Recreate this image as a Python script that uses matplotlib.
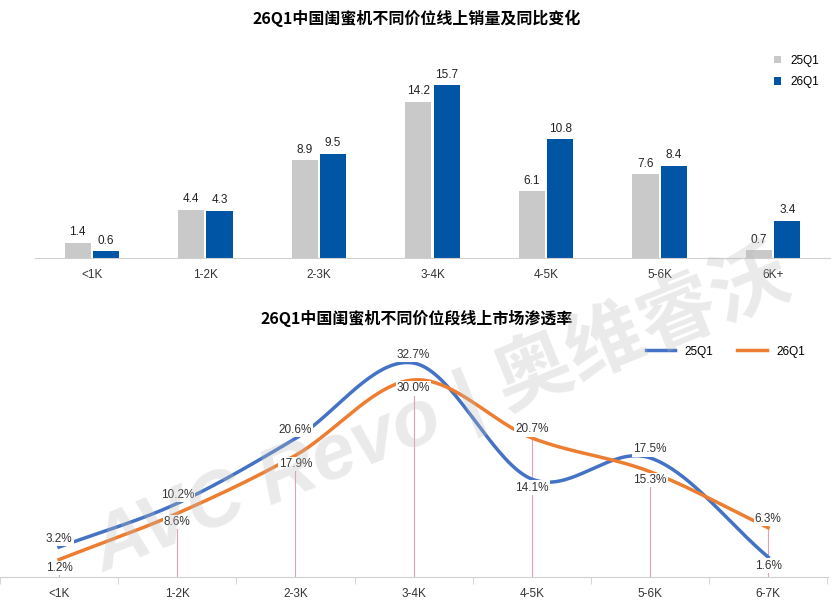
import numpy as np
import matplotlib
matplotlib.use("Agg")
import matplotlib.pyplot as plt

plt.rcParams['font.family'] = ['Liberation Sans', 'Noto Sans CJK SC', 'DejaVu Sans']

cats1 = ['<1K', '1-2K', '2-3K', '3-4K', '4-5K', '5-6K', '6K+']
sales_25 = [1.4, 4.4, 8.9, 14.2, 6.1, 7.6, 0.7]
sales_26 = [0.6, 4.3, 9.5, 15.7, 10.8, 8.4, 3.4]
cats2 = ['<1K', '1-2K', '2-3K', '3-4K', '4-5K', '5-6K', '6-7K']
pen_25 = [3.2, 10.2, 20.6, 32.7, 14.1, 17.5, 1.6]
pen_26 = [1.2, 8.6, 17.9, 30.0, 20.7, 15.3, 6.3]

W, H = 834, 603
fig = plt.figure(figsize=(W/100, H/100), dpi=100)

def ax_px(l, t, r, b):
    return fig.add_axes([l/W, 1-b/H, (r-l)/W, (b-t)/H])

# --- top bar chart
ax = ax_px(35, 60, 830, 258)
x = np.arange(len(cats1))
bw = 0.23
gray, blue = '#C9C9C9', '#0055A5'
b1 = ax.bar(x-bw/2-0.01, sales_25, bw, color=gray, label='25Q1')
b2 = ax.bar(x+bw/2+0.01, sales_26, bw, color=blue, label='26Q1')
for bars, vals in ((b1, sales_25), (b2, sales_26)):
    for r, v in zip(bars, vals):
        ax.text(r.get_x()+r.get_width()/2, v+0.4, f'{v:.1f}', ha='center', va='bottom', fontsize=8.5, color='#222')
ax.set_xlim(-0.5, 6.5)
ax.set_ylim(0, 18)
ax.set_yticks([])
ax.set_xticks(x)
ax.set_xticklabels(cats1, fontsize=8.5, color='#333')
ax.tick_params(axis='x', length=0, pad=8)
for s in ['top', 'right', 'left']:
    ax.spines[s].set_visible(False)
ax.spines['bottom'].set_color('#D0D0D0')
ax.legend(loc='upper right', bbox_to_anchor=(1.0, 1.08), frameon=False, fontsize=8.5,
          handlelength=0.6, handleheight=0.6, labelspacing=0.8)
fig.text(417/W, 1-18/H, '26Q1中国闺蜜机不同价位线上销量及同比变化', ha='center', va='center',
         fontsize=11.5, fontweight='bold', family=['Noto Sans CJK SC'])

# --- bottom line chart
ax2 = ax_px(0, 330, 828, 577)
sp = 118.8
ax2.set_xlim(-55/sp, (828-55)/sp)
ax2.set_ylim(-1.6, 38)

def catmull(xs, ys, n=40):
    xs = np.asarray(xs, float); ys = np.asarray(ys, float)
    P = np.column_stack([xs, ys])
    P = np.vstack([2*P[0]-P[1], P, 2*P[-1]-P[-2]])
    out = []
    for i in range(1, len(P)-2):
        p0, p1, p2, p3 = P[i-1], P[i], P[i+1], P[i+2]
        t = np.linspace(0, 1, n)[:, None]
        pts = 0.5*((2*p1) + (-p0+p2)*t + (2*p0-5*p1+4*p2-p3)*t**2 + (-p0+3*p1-3*p2+p3)*t**3)
        out.append(pts)
    return np.vstack(out)

xx = np.arange(len(cats2))
cb, co = '#4472C4', '#ED7D31'
for i, v in enumerate(pen_26):
    ax2.plot([i, i], [-1.6, v], color='#E6A0B4', lw=0.8, zorder=1)
c1 = catmull(xx, pen_25); c2 = catmull(xx, pen_26)
ax2.plot(c1[:, 0], c1[:, 1], color=cb, lw=2.5, label='25Q1', zorder=2)
ax2.plot(c2[:, 0], c2[:, 1], color=co, lw=2.5, label='26Q1', zorder=2)
for i in range(len(cats2)):
    a, b = pen_25[i], pen_26[i]
    if a >= b:
        ya, va_a, yb, va_b = a+0.4, 'bottom', b-0.4, 'top'
    else:
        ya, va_a, yb, va_b = a-0.4, 'top', b+0.4, 'bottom'
    bb = dict(boxstyle='square,pad=0.1', fc='white', ec='none')
    ax2.text(i, ya, f'{a:.1f}%', ha='center', va=va_a, fontsize=8.5, color='#333', bbox=bb, zorder=3)
    ax2.text(i, yb, f'{b:.1f}%', ha='center', va=va_b, fontsize=8.5, color='#333', bbox=bb, zorder=3)
ax2.set_yticks([])
ax2.set_xticks(xx)
ax2.set_xticklabels(cats2, fontsize=8.5, color='#333')
ax2.set_xticks(np.arange(-0.5, 6.6, 1), minor=True)
ax2.tick_params(axis='x', which='major', length=0, pad=8)
ax2.tick_params(axis='x', which='minor', length=5, color='#D0D0D0')
for s in ['top', 'right', 'left']:
    ax2.spines[s].set_visible(False)
ax2.spines['bottom'].set_color('#D0D0D0')
ax2.legend(loc='upper right', bbox_to_anchor=(0.985, 0.98), ncol=2, frameon=False, fontsize=8.5,
           handlelength=2.5, columnspacing=2)
fig.text(417/W, 1-318/H, '26Q1中国闺蜜机不同价位段线上市场渗透率', ha='center', va='center',
         fontsize=11.5, fontweight='bold', family=['Noto Sans CJK SC'])

fig.text(440/W, 1-410/H, 'AVC Revo | 奥维睿沃', ha='center', va='center', fontsize=56,
         fontweight='bold', color='#BBBBBB', alpha=0.3, rotation=22, fontstyle='italic',
         family=['Liberation Sans', 'Noto Sans CJK SC'])

fig.savefig('out.png', dpi=100, facecolor='white')
